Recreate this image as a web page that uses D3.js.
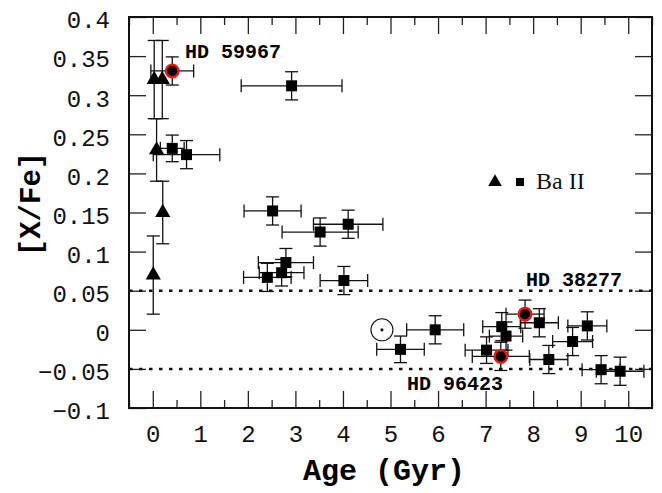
<html>
<head>
<script src="https://d3js.org/d3.v7.min.js"></script>
<style>
  body { margin: 0; background: white; }
</style>
</head>
<body>
<svg></svg>
<script>
// Ba II, triangles (y error only)
var triAge = [0.03, 0.20, 0.08, 0.21, 0.01];
var triVal = [0.32, 0.32, 0.23, 0.15, 0.07];
var triErr = [0.05, 0.05, 0.04, 0.04, 0.05];

// Ba II, squares
var sqAge    = [0.41, 2.92, 0.41, 0.71, 2.52, 3.52, 4.11, 2.80, 2.71, 2.41, 4.02, 5.21, 5.94, 7.02, 7.32, 7.34, 7.43, 7.83, 8.13, 8.33, 8.83, 9.14, 9.43, 9.83];
var sqVal    = [0.331, 0.312, 0.232, 0.224, 0.152, 0.125, 0.135, 0.086, 0.073, 0.067, 0.063, -0.025, 0.0, -0.026, -0.034, 0.004, -0.008, 0.020, 0.009, -0.038, -0.015, 0.005, -0.051, -0.053];
var sqAgeErr = [0.45, 1.06, 0.25, 0.70, 0.60, 0.80, 0.73, 0.58, 0.47, 0.50, 0.50, 0.50, 0.60, 0.45, 0.60, 0.40, 0.35, 0.40, 0.40, 0.40, 0.42, 0.41, 0.40, 0.50];
var sqValErr = [0.018, 0.018, 0.017, 0.018, 0.018, 0.018, 0.018, 0.018, 0.017, 0.018, 0.018, 0.017, 0.018, 0.017, 0.018, 0.018, 0.018, 0.018, 0.018, 0.018, 0.018, 0.018, 0.018, 0.018];
// stars ringed in red
var sqMarked = [true, false, false, false, false, false, false, false, false, false, false, false, false, false, true, false, false, true, false, false, false, false, false, false];

var sunAge = 4.82, sunVal = 0.0;
var refLines = [0.05, -0.05];

var xTicks = [0, 1, 2, 3, 4, 5, 6, 7, 8, 9, 10];
var xMinor = [-0.5, 0.5, 1.5, 2.5, 3.5, 4.5, 5.5, 6.5, 7.5, 8.5, 9.5, 10.5];
var yTicks = [-0.1, -0.05, 0, 0.05, 0.1, 0.15, 0.2, 0.25, 0.3, 0.35, 0.4];

var W = 662, H = 493;
var pL = 129, pR = 652, pT = 17, pB = 408;

var svg = d3.select("svg").attr("width", W).attr("height", H);

var x = d3.scaleLinear().domain([-0.5, 10.5]).range([pL, pR]);
var y = d3.scaleLinear().domain([-0.1, 0.4]).range([pB, pT]);

var tickFont = "'Liberation Mono', monospace";
var fmtY = function(d) { return d === 0 ? "0" : String(+d.toFixed(2)).replace("-", "\u2212"); };

var tris = triAge.map(function(a, i) { return { age: a, val: triVal[i], err: triErr[i] }; });
var sqs = sqAge.map(function(a, i) {
  return { age: a, val: sqVal[i], aerr: sqAgeErr[i], verr: sqValErr[i], marked: sqMarked[i] };
});

// axes, ticks pointing inward
function styleAxis(g) {
  g.select(".domain").remove();
  g.selectAll(".tick line").attr("stroke", "#222").attr("stroke-width", 1.3);
  g.selectAll("text").style("font-family", tickFont).style("font-size", "24px").attr("fill", "#111");
}

svg.append("g").attr("transform", "translate(0," + pB + ")")
  .call(d3.axisBottom(x).tickValues(xTicks).tickSize(-17).tickPadding(17).tickFormat(d3.format("d")))
  .call(styleAxis);
svg.append("g").attr("transform", "translate(0," + pB + ")")
  .call(d3.axisBottom(x).tickValues(xMinor).tickSize(-8).tickFormat(""))
  .call(styleAxis);
svg.append("g").attr("transform", "translate(0," + pT + ")")
  .call(d3.axisTop(x).tickValues(xTicks).tickSize(-17).tickFormat(""))
  .call(styleAxis);
svg.append("g").attr("transform", "translate(0," + pT + ")")
  .call(d3.axisTop(x).tickValues(xMinor).tickSize(-8).tickFormat(""))
  .call(styleAxis);
svg.append("g").attr("transform", "translate(" + pL + ",0)")
  .call(d3.axisLeft(y).tickValues(yTicks).tickSize(-17).tickPadding(19).tickFormat(fmtY))
  .call(styleAxis)
  .selectAll("text").attr("dy", "0.45em");
svg.append("g").attr("transform", "translate(" + pR + ",0)")
  .call(d3.axisRight(y).tickValues(yTicks).tickSize(-17).tickFormat(""))
  .call(styleAxis);

// frame
svg.append("rect")
  .attr("x", pL).attr("y", pT)
  .attr("width", pR - pL).attr("height", pB - pT)
  .attr("fill", "none").attr("stroke", "#111").attr("stroke-width", 2);

// dotted reference lines
svg.selectAll(".ref").data(refLines).enter().append("line")
  .attr("x1", pL).attr("x2", pR)
  .attr("y1", function(d) { return y(d); }).attr("y2", function(d) { return y(d); })
  .attr("stroke", "#111").attr("stroke-width", 2.5)
  .attr("stroke-dasharray", "3.5,6.5");

var cap = 6.5;
var eb = svg.append("g").attr("stroke", "#111").attr("stroke-width", 1.3).attr("fill", "none");

// triangle error bars
tris.forEach(function(d) {
  var cx = x(d.age), y0 = y(d.val - d.err), y1 = y(d.val + d.err);
  eb.append("line").attr("x1", cx).attr("x2", cx).attr("y1", y0).attr("y2", y1);
  eb.append("line").attr("x1", cx - cap).attr("x2", cx + cap).attr("y1", y0).attr("y2", y0);
  eb.append("line").attr("x1", cx - cap).attr("x2", cx + cap).attr("y1", y1).attr("y2", y1);
});

// square error bars
sqs.forEach(function(d) {
  var cx = x(d.age), cy = y(d.val);
  var x0 = x(d.age - d.aerr), x1 = x(d.age + d.aerr);
  var y0 = y(d.val - d.verr), y1 = y(d.val + d.verr);
  eb.append("line").attr("x1", x0).attr("x2", x1).attr("y1", cy).attr("y2", cy);
  eb.append("line").attr("x1", x0).attr("x2", x0).attr("y1", cy - cap).attr("y2", cy + cap);
  eb.append("line").attr("x1", x1).attr("x2", x1).attr("y1", cy - cap).attr("y2", cy + cap);
  eb.append("line").attr("x1", cx).attr("x2", cx).attr("y1", y0).attr("y2", y1);
  eb.append("line").attr("x1", cx - cap).attr("x2", cx + cap).attr("y1", y0).attr("y2", y0);
  eb.append("line").attr("x1", cx - cap).attr("x2", cx + cap).attr("y1", y1).attr("y2", y1);
});

// markers
svg.selectAll(".tri").data(tris).enter().append("path")
  .attr("d", d3.symbol(d3.symbolTriangle).size(100))
  .attr("transform", function(d) { return "translate(" + x(d.age) + "," + y(d.val) + ")"; })
  .attr("fill", "#000");

svg.selectAll(".sq").data(sqs.filter(function(d) { return !d.marked; })).enter().append("path")
  .attr("d", d3.symbol(d3.symbolSquare).size(121))
  .attr("transform", function(d) { return "translate(" + x(d.age) + "," + y(d.val) + ")"; })
  .attr("fill", "#000");

svg.selectAll(".mk").data(sqs.filter(function(d) { return d.marked; })).enter().append("circle")
  .attr("cx", function(d) { return x(d.age); })
  .attr("cy", function(d) { return y(d.val); })
  .attr("r", 6.3)
  .attr("fill", "#000").attr("stroke", "#ff1010").attr("stroke-width", 2.4);

// sun symbol
svg.append("circle").attr("cx", x(sunAge)).attr("cy", y(sunVal)).attr("r", 11)
  .attr("fill", "white").attr("stroke", "#111").attr("stroke-width", 1.1);
svg.append("circle").attr("cx", x(sunAge)).attr("cy", y(sunVal)).attr("r", 1.6).attr("fill", "#111");

// star labels
var labFont = "'Liberation Mono', monospace";
function starLabel(txt, px, py) {
  svg.append("text").text(txt)
    .attr("x", px).attr("y", py)
    .style("font-family", labFont).style("font-weight", "bold").style("font-size", "20px")
    .attr("fill", "#000");
}
starLabel("HD 59967", 185, 58);
starLabel("HD 38277", 526, 286);
starLabel("HD 96423", 407, 390);

// legend
svg.append("path").attr("d", d3.symbol(d3.symbolTriangle).size(80))
  .attr("transform", "translate(495,182)").attr("fill", "#000");
svg.append("path").attr("d", d3.symbol(d3.symbolSquare).size(64))
  .attr("transform", "translate(520,182)").attr("fill", "#000");
svg.append("text").text("Ba II").attr("x", 536).attr("y", 189)
  .style("font-family", "'Liberation Serif', serif").style("font-size", "24px").attr("fill", "#111");

// axis titles
svg.append("text").text("Age (Gyr)")
  .attr("x", 384).attr("y", 480).attr("text-anchor", "middle")
  .style("font-family", labFont).style("font-weight", "bold").style("font-size", "30px");
svg.append("text").text("[X/Fe]")
  .attr("transform", "translate(40,204) rotate(-90)").attr("text-anchor", "middle")
  .style("font-family", labFont).style("font-weight", "bold").style("font-size", "29px");
</script>
</body>
</html>
